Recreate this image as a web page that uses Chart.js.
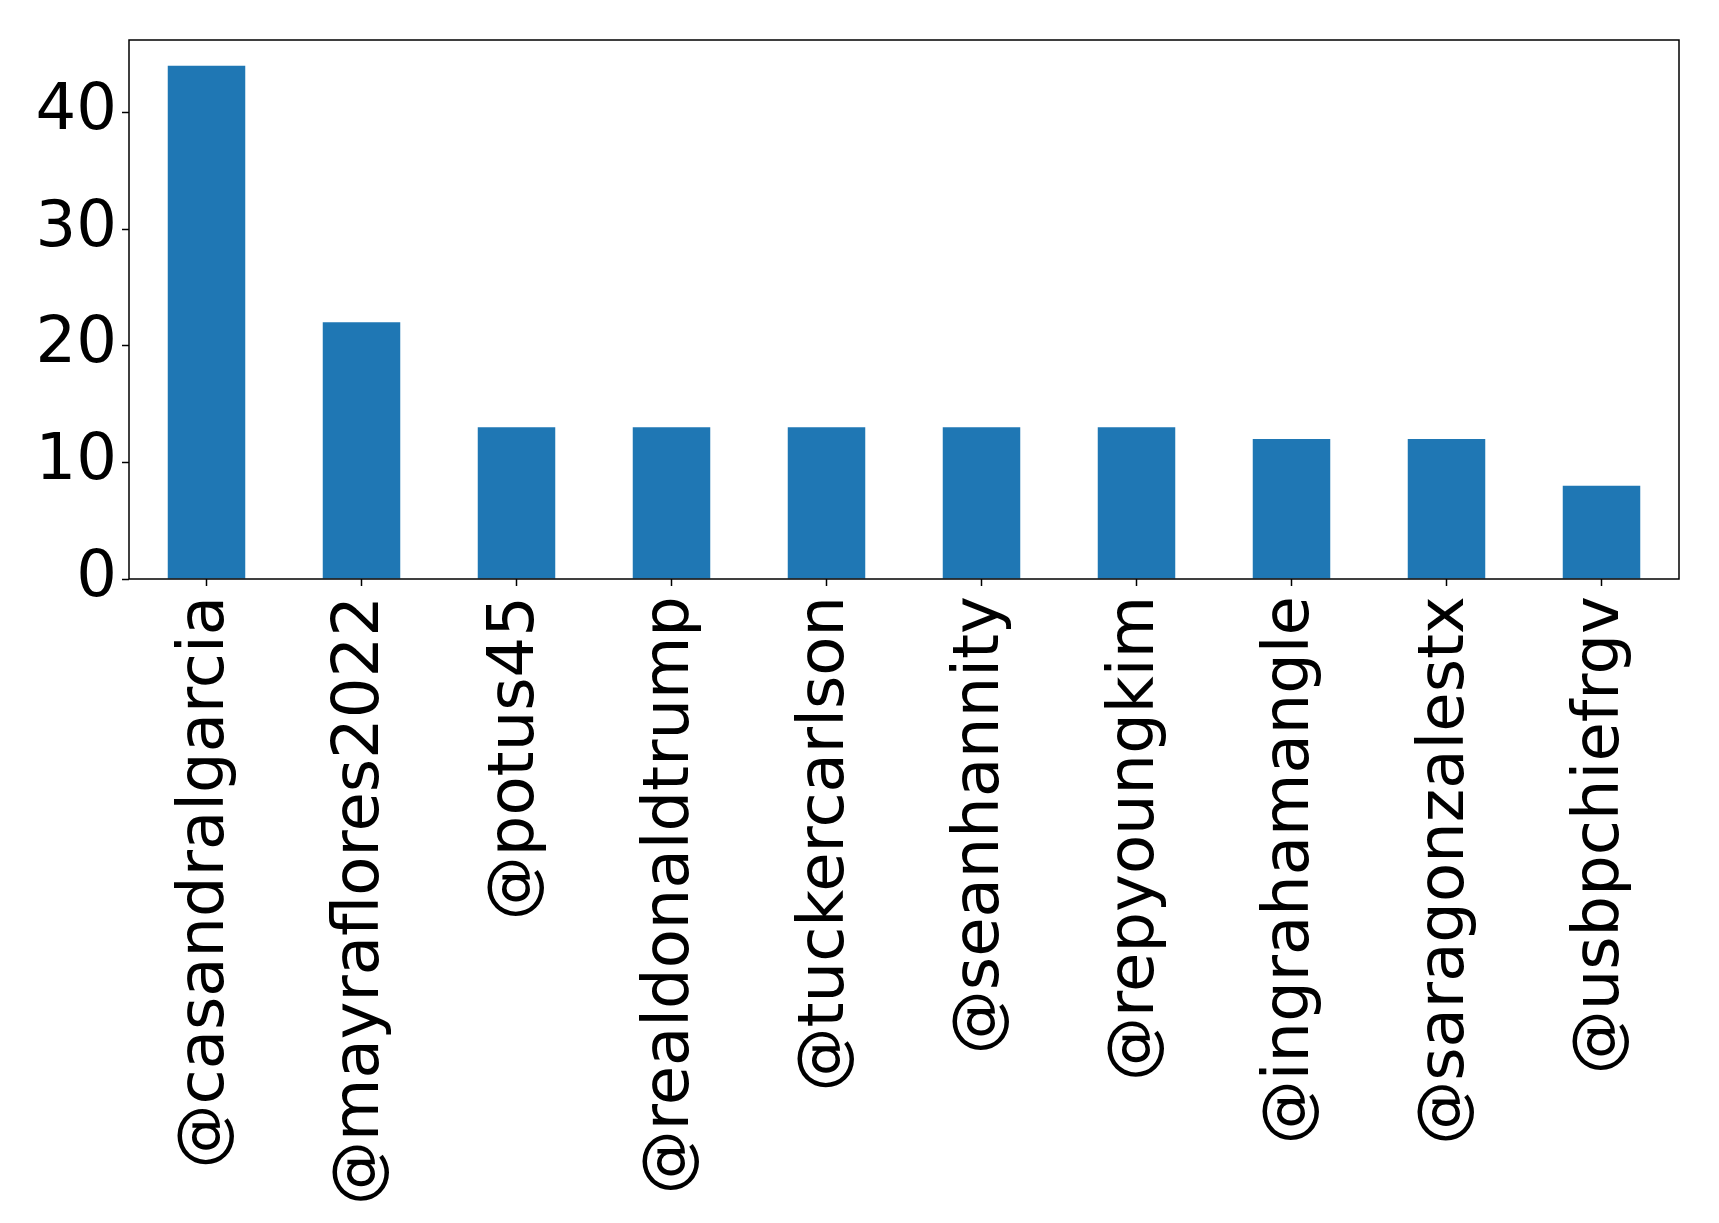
<!DOCTYPE html>
<html>
<head>
<meta charset="utf-8">
<script src="https://cdn.jsdelivr.net/npm/chart.js@4/dist/chart.umd.min.js"></script>
<style>
    html, body { margin: 0; padding: 0; background: #fff; }
    canvas { display: block; }
</style>
</head>
<body>
<canvas id="barChart" width="1719" height="1223"></canvas>
<script>
// data
const accounts = [
    '@casandralgarcia', '@mayraflores2022', '@potus45', '@realdonaldtrump',
    '@tuckercarlson', '@seanhannity', '@repyoungkim', '@ingrahamangle',
    '@saragonzalestx', '@usbpchiefrgv'
];
const mentionCounts = [44, 22, 13, 13, 13, 13, 13, 12, 12, 8];
const yTicks = [0, 10, 20, 30, 40];
const yMax = 46.2;

const barColor = '#1f77b4';
const fontFamily = "'DejaVu Sans', sans-serif";

// plot frame drawn like matplotlib's axes box
const frameBox = {
    id: 'frameBox',
    afterDraw(chart) {
        const { ctx, chartArea: a } = chart;
        ctx.save();
        ctx.strokeStyle = '#000';
        ctx.lineWidth = 1.5;
        ctx.strokeRect(a.left, a.top, a.right - a.left, a.bottom - a.top);
        ctx.restore();
    }
};

function initChart() {
    const ctx = document.getElementById('barChart').getContext('2d');

    new Chart(ctx, {
        type: 'bar',
        data: {
            labels: accounts,
            datasets: [{
                data: mentionCounts,
                backgroundColor: barColor,
                borderWidth: 0,
                barPercentage: 0.5,
                categoryPercentage: 1.0
            }]
        },
        options: {
            responsive: false,
            animation: false,
            devicePixelRatio: 1,
            layout: {
                padding: { top: 40, right: 40, left: 0, bottom: 0 }
            },
            plugins: {
                legend: { display: false },
                tooltip: { enabled: false }
            },
            scales: {
                x: {
                    grid: {
                        offset: false,
                        drawOnChartArea: false,
                        drawTicks: true,
                        tickLength: 7,
                        tickWidth: 1.5,
                        color: '#000'
                    },
                    border: { display: false },
                    ticks: {
                        color: '#000',
                        maxRotation: 90,
                        minRotation: 90,
                        autoSkip: false,
                        padding: 10,
                        font: { family: fontFamily, size: 64 }
                    },
                    afterFit(scale) {
                        scale.height = 644;
                        scale.paddingLeft = 0;
                        scale.paddingRight = 0;
                    }
                },
                y: {
                    min: 0,
                    max: yMax,
                    grid: {
                        drawOnChartArea: false,
                        drawTicks: true,
                        tickLength: 7,
                        tickWidth: 1.5,
                        color: '#000'
                    },
                    border: { display: false },
                    ticks: {
                        color: '#000',
                        padding: 5,
                        font: { family: fontFamily, size: 64 }
                    },
                    afterBuildTicks(scale) {
                        scale.ticks = yTicks.map(v => ({ value: v }));
                    },
                    afterFit(scale) {
                        scale.width = 129;
                        scale.paddingTop = 0;
                        scale.paddingBottom = 0;
                    }
                }
            }
        },
        plugins: [frameBox]
    });
}

initChart();
</script>
</body>
</html>
